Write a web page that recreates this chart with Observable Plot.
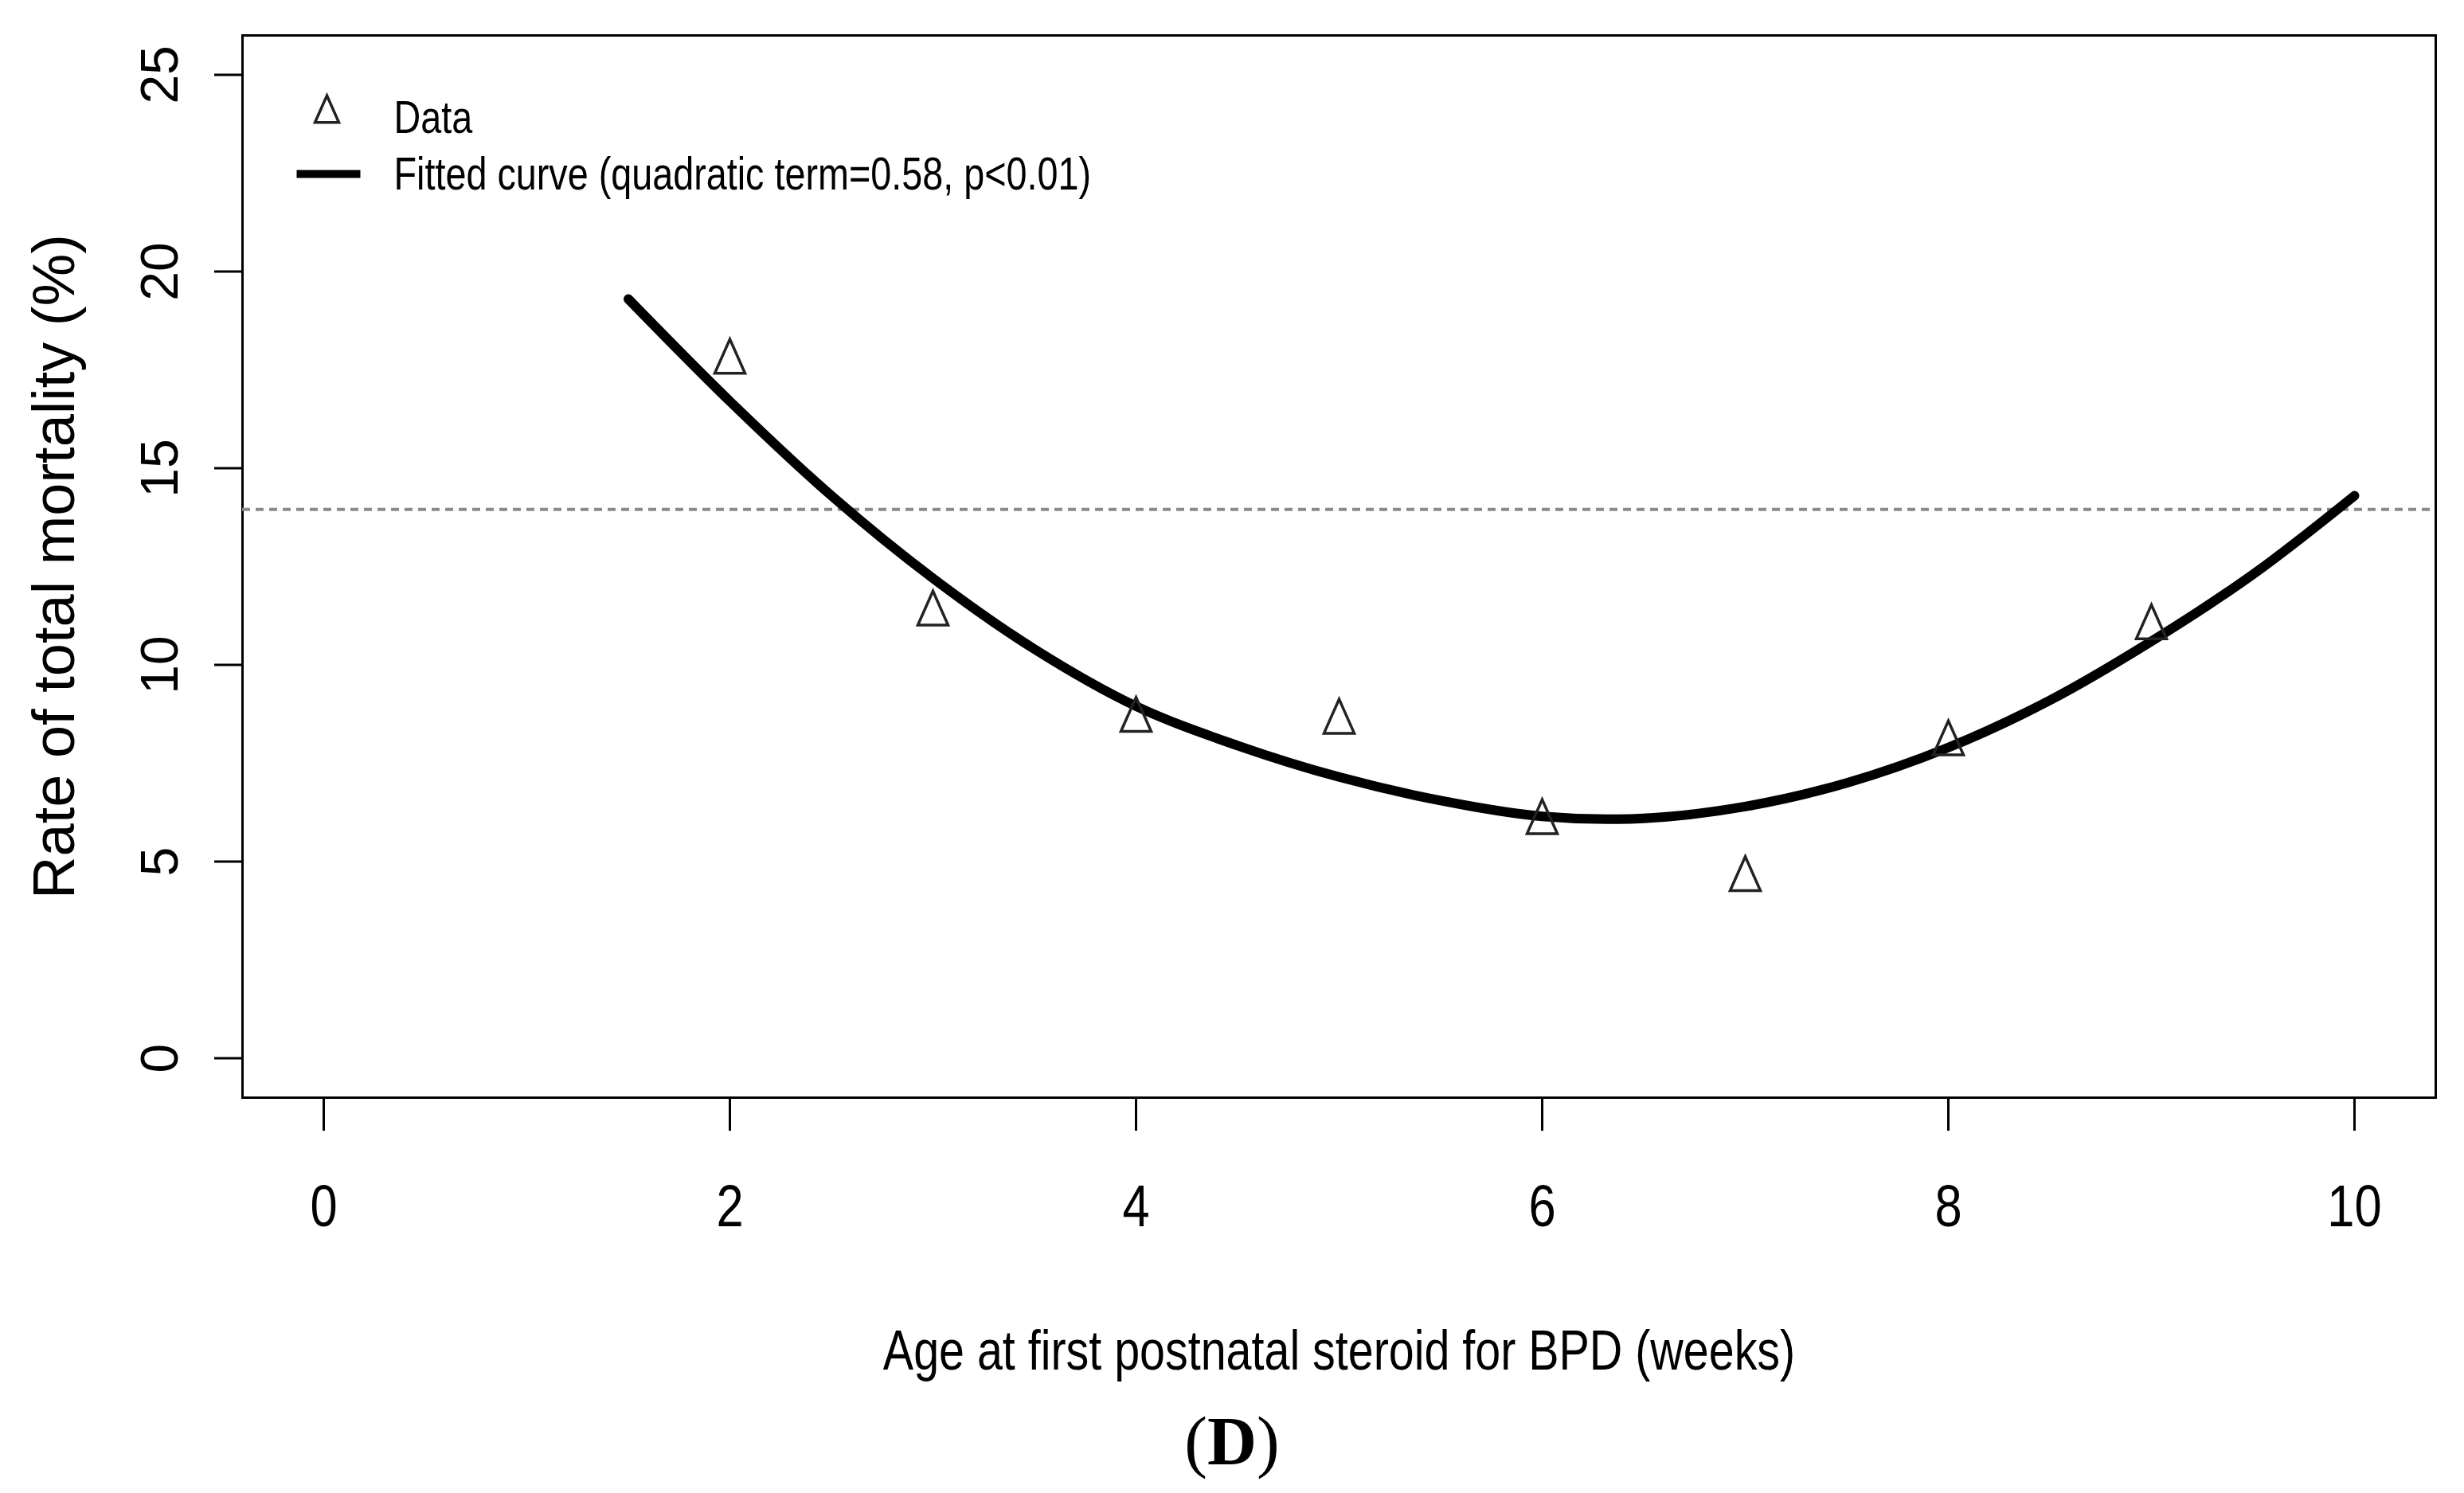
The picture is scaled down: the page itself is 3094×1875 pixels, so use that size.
<!DOCTYPE html>
<html><head><meta charset="utf-8">
<script src="https://cdn.jsdelivr.net/npm/d3@7"></script>
<script src="https://cdn.jsdelivr.net/npm/@observablehq/plot@0.6"></script>
<style>
body{margin:0;background:#fff;}
#caption{font-family:"Liberation Serif","Times New Roman",serif;font-size:86px;text-align:center;line-height:100px;height:100px;color:#000;}
</style></head><body>
<div id="chart"></div>
<div id="caption">(<b>D</b>)</div>
<script>
// Observed data (triangles)
const weeks = [2, 3, 4, 5, 6, 7, 8, 9];
const mortality = [17.7, 11.3, 8.6, 8.55, 6.0, 4.55, 8.0, 10.95];
// Fitted quadratic curve
const fitWeeks = [1.5, 2, 2.5, 3, 3.5, 4, 4.5, 5, 5.5, 6, 6.5, 7, 7.5, 8, 8.5, 9, 9.5, 10];
const fitRate = [19.3, 16.7, 14.3, 12.2, 10.4, 8.95, 7.95, 7.15, 6.55, 6.15, 6.1, 6.4, 7.0, 7.9, 9.1, 10.6, 12.3, 14.3];
// Overall rate (dashed reference line)
const overallRate = [13.95];
// Axes
const xTicks = [0, 2, 4, 6, 8, 10];
const yTicks = [0, 5, 10, 15, 20, 25];
const xTitle = ["Age at first postnatal steroid for BPD (weeks)"];
const yTitle = ["Rate of total mortality (%)"];
const legendData = ["Data"];
const legendFit = ["Fitted curve (quadratic term=0.58, p<0.01)"];

const points = weeks.map((w, i) => ({w, v: mortality[i]}));
const fit = fitWeeks.map((w, i) => ({w, v: fitRate[i]}));

// "narrowmark" is a marker used to find the texts to condense afterwards
const narrow = "'Liberation Sans', Arial, narrowmark, sans-serif";
const regular = "'Liberation Sans', Arial, sans-serif";

const tallTriangle = {draw(ctx, size) {
  const r = Math.sqrt(size / Math.PI);
  ctx.moveTo(0, -1.5 * r); ctx.lineTo(r, 0.75 * r); ctx.lineTo(-r, 0.75 * r); ctx.closePath();
}};
const dash = {draw(ctx, size) {
  const r = Math.sqrt(size / Math.PI);
  ctx.moveTo(-r, 0); ctx.lineTo(r, 0);
}};

const chart = Plot.plot({
  width: 3094, height: 1760,
  marginLeft: 304, marginRight: 36, marginTop: 44, marginBottom: 382,
  style: {background: "#fff", color: "#000"},
  x: {domain: [-0.4, 10.4]},
  y: {domain: [-1, 26]},
  marks: [
    Plot.frame({stroke: "#000", strokeWidth: 3}),
    Plot.axisX({ticks: xTicks, tickSize: 42, tickPadding: 66, fontSize: 75, fontFamily: narrow, label: null, strokeWidth: 3}),
    Plot.axisY({ticks: yTicks, tickSize: 35, tickPadding: 47, tickRotate: -90, fontSize: 66, fontFamily: regular, label: null, strokeWidth: 3}),
    Plot.text(xTitle, {text: d => d, frameAnchor: "bottom", dy: 319, lineAnchor: "middle", textAnchor: "middle", fontSize: 70, fontFamily: narrow}),
    Plot.text(yTitle, {text: d => d, frameAnchor: "left", dx: -235, rotate: -90, textAnchor: "middle", lineAnchor: "middle", fontSize: 74, fontFamily: regular}),
    Plot.ruleY(overallRate, {stroke: "#8a8a8a", strokeWidth: 4, strokeDasharray: "10,7"}),
    Plot.line(fit, {x: "w", y: "v", curve: "catmull-rom", stroke: "#000", strokeWidth: 12}),
    Plot.dot(points, {x: "w", y: "v", symbol: tallTriangle, r: 19, stroke: "#222", strokeWidth: 3.5, fill: "none"}),
    // legend
    Plot.dot(legendData, {frameAnchor: "top-left", dx: 106, dy: 98, symbol: tallTriangle, r: 15, stroke: "#222", strokeWidth: 3.5, fill: "none"}),
    Plot.dot(legendFit, {frameAnchor: "top-left", dx: 108, dy: 174, symbol: dash, r: 40, stroke: "#000", strokeWidth: 10}),
    Plot.text(legendData, {text: d => d, frameAnchor: "top-left", dx: 190, dy: 104, textAnchor: "start", lineAnchor: "middle", fontSize: 57, fontFamily: narrow}),
    Plot.text(legendFit, {text: d => d, frameAnchor: "top-left", dx: 190, dy: 175, textAnchor: "start", lineAnchor: "middle", fontSize: 57, fontFamily: narrow})
  ]
});
document.getElementById("chart").appendChild(chart);
// condense the narrow-font texts (the reference uses an Arial Narrow-like face)
chart.querySelectorAll("g[font-family*='narrowmark'] text").forEach(t => {
  const len = t.getComputedTextLength();
  if (len > 0) {
    t.setAttribute("textLength", (len * 0.82).toFixed(1));
    t.setAttribute("lengthAdjust", "spacingAndGlyphs");
  }
});
</script>
</body></html>
